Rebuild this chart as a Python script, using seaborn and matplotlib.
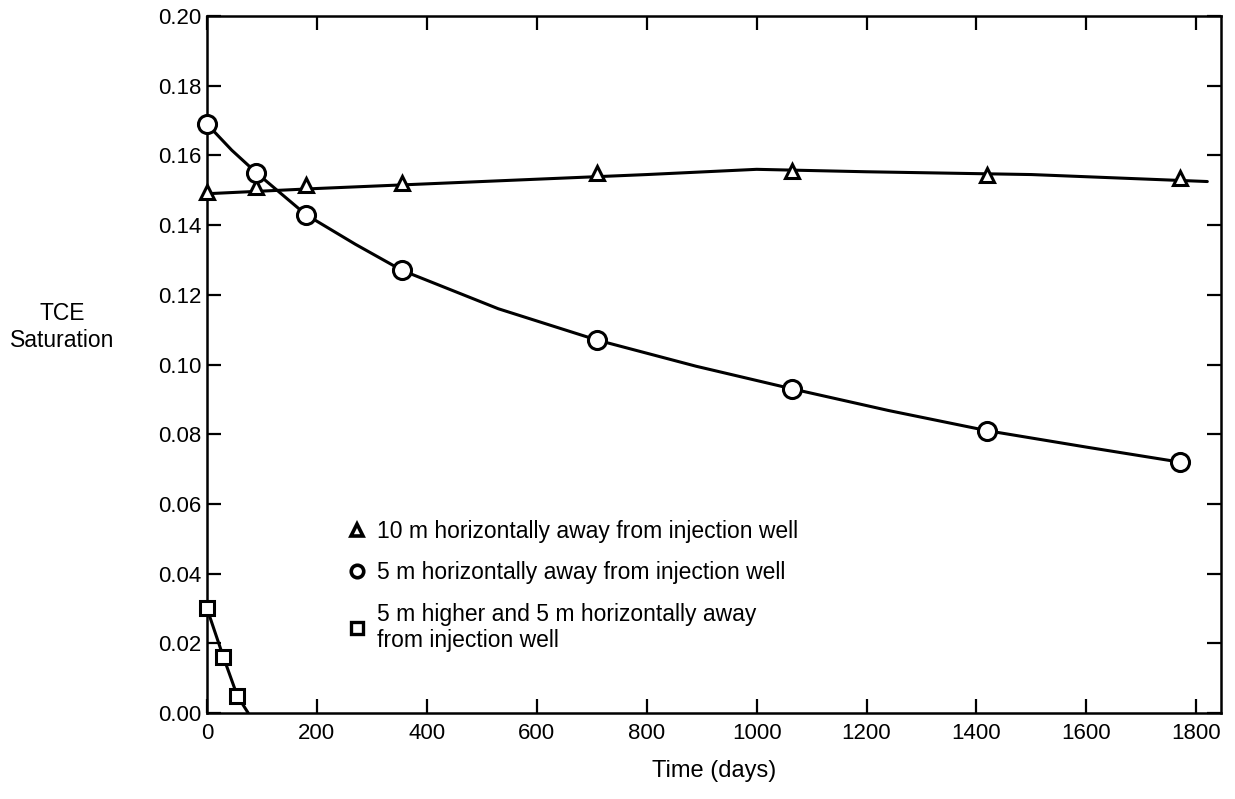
import matplotlib
matplotlib.use("Agg")
import matplotlib.pyplot as plt
from matplotlib.lines import Line2D
import seaborn as sns

# Data
time_pts = [0, 90, 180, 355, 710, 1065, 1420, 1770]
tce_10m = [0.1495, 0.151, 0.1515, 0.152, 0.155, 0.1555, 0.1545, 0.1535]
tce_5m = [0.169, 0.155, 0.143, 0.127, 0.107, 0.093, 0.081, 0.072]

time_sq = [0, 30, 55]
tce_5m_high = [0.030, 0.016, 0.005]

# fitted curves as drawn in the figure
curve_10m_x = [0, 200, 500, 800, 1000, 1200, 1500, 1820]
curve_10m_y = [0.149, 0.1505, 0.1525, 0.1545, 0.1560, 0.1553, 0.1545, 0.1525]
curve_5m_x = [0, 45, 90, 180, 270, 355, 530, 710, 890, 1065, 1240, 1420, 1600, 1770]
curve_5m_y = [0.169, 0.1615, 0.155, 0.143, 0.1345, 0.127, 0.116, 0.107, 0.0995, 0.093, 0.0868, 0.081, 0.0763, 0.072]
curve_sq_x = [0, 30, 55, 75]
curve_sq_y = [0.030, 0.016, 0.005, 0.0]

labels = ["10 m horizontally away from injection well",
          "5 m horizontally away from injection well",
          "5 m higher and 5 m horizontally away\nfrom injection well"]

sns.set_style("ticks")
plt.rcParams['font.family'] = ['Liberation Sans', 'DejaVu Sans']
plt.rcParams['text.color'] = 'black'
plt.rcParams['axes.labelcolor'] = 'black'

fig = plt.figure(figsize=(12.35, 7.99), dpi=100)
ax = fig.add_axes([0.1676, 0.1076, 0.8211, 0.8724])

lw = 2.2
sns.lineplot(x=curve_10m_x, y=curve_10m_y, ax=ax, color="black", lw=lw)
sns.lineplot(x=curve_5m_x, y=curve_5m_y, ax=ax, color="black", lw=lw)
sns.lineplot(x=curve_sq_x, y=curve_sq_y, ax=ax, color="black", lw=lw)

ax.plot(time_pts, tce_10m, ls="none", marker="^", ms=10, mfc="white", mec="black", mew=2.2, zorder=3, clip_on=False)
ax.plot(time_pts, tce_5m, ls="none", marker="o", ms=13, mfc="white", mec="black", mew=2.2, zorder=3, clip_on=False)
ax.plot(time_sq, tce_5m_high, ls="none", marker="s", ms=10, mfc="white", mec="black", mew=2.2, zorder=3, clip_on=False)

ax.set_xlim(0, 1845)
ax.set_ylim(0, 0.20)
ax.set_xticks([0, 200, 400, 600, 800, 1000, 1200, 1400, 1600, 1800])
ax.set_yticks([0.00, 0.02, 0.04, 0.06, 0.08, 0.10, 0.12, 0.14, 0.16, 0.18, 0.20])
ax.set_yticklabels([f"{v:.2f}" for v in ax.get_yticks()])
ax.tick_params(direction="in", length=10, width=1.6, top=True, right=True,
               labelsize=16, colors="black")
ax.tick_params(axis="x", pad=7)
ax.tick_params(axis="y", pad=4)
for s in ax.spines.values():
    s.set_linewidth(1.8)
    s.set_color("black")

ax.set_xlabel("Time (days)", fontsize=17, labelpad=12)
ax.set_ylabel("")
fig.text(0.050, 0.591, "TCE\nSaturation", ha="center", va="center", fontsize=16.5)

handles = [
    Line2D([], [], ls="none", marker="^", ms=9, mfc="white", mec="black", mew=2.6),
    Line2D([], [], ls="none", marker="o", ms=9, mfc="white", mec="black", mew=2.6),
    Line2D([], [], ls="none", marker="s", ms=8, mfc="white", mec="black", mew=2.4),
]
ax.legend(handles, labels, loc="upper left", bbox_to_anchor=(0.137, 0.277),
          frameon=False, fontsize=16.5, handlelength=1.0, handletextpad=0.35,
          labelspacing=0.8, borderpad=0, borderaxespad=0, labelcolor="black")

fig.savefig("out.png", dpi=100)
